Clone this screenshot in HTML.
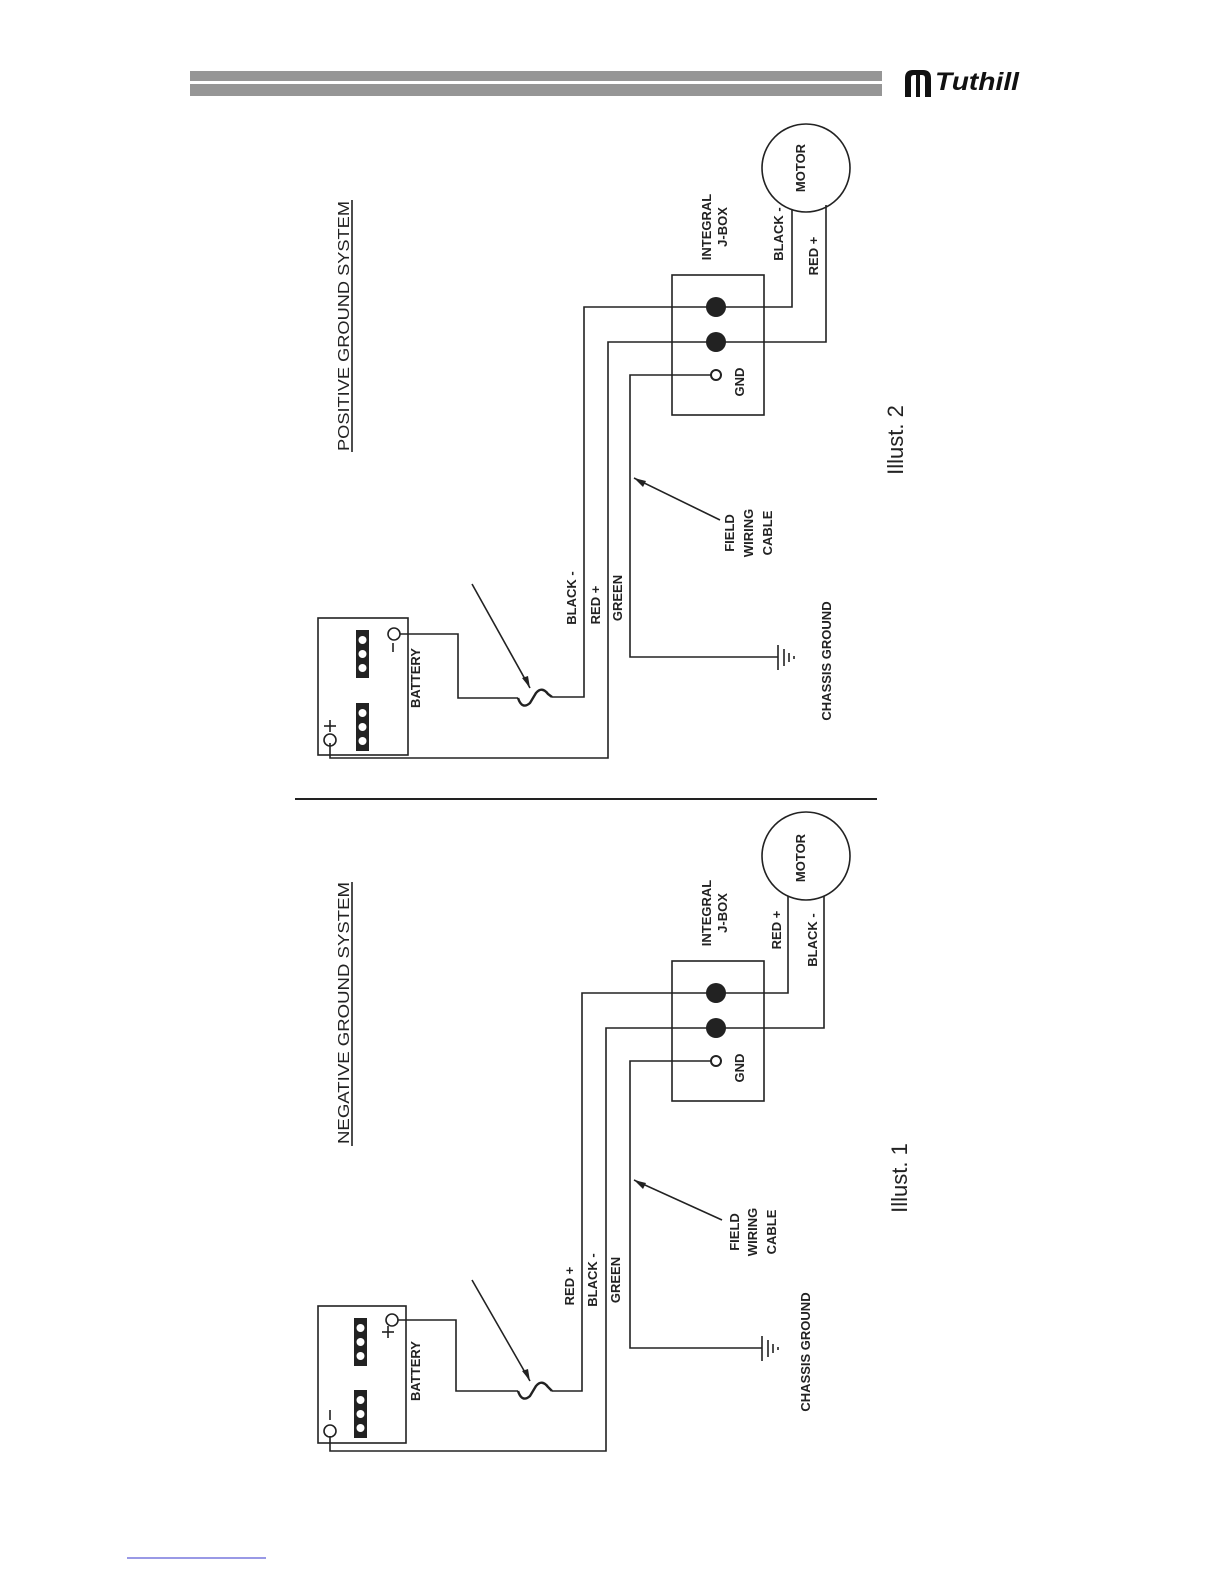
<!DOCTYPE html>
<html><head><meta charset="utf-8"><style>
html,body{margin:0;padding:0;background:#fff}
svg{display:block}
.b{font-family:"Liberation Sans",sans-serif;font-weight:bold;font-size:13px;fill:#222}
</style></head><body>
<svg width="1225" height="1585" viewBox="0 0 1225 1585" xmlns="http://www.w3.org/2000/svg">
<rect x="190" y="71" width="692" height="10" fill="#969696"/>
<rect x="190" y="84" width="692" height="12" fill="#969696"/>
<g transform="translate(903,68)">
<path d="M2 29 L2 10 Q2 2 10 2 L20 2 Q28 2 28 10 L28 29 L22 29 L22 10 Q22 7 19 7 L17 7 L17 29 L13 29 L13 7 L11 7 Q8 7 8 10 L8 29 Z" fill="#111"/>
<text x="32" y="22" style="font-family:'Liberation Sans',sans-serif;font-weight:bold;font-style:italic;font-size:25px" fill="#111" textLength="84" lengthAdjust="spacingAndGlyphs">Tuthill</text>
</g>
<line x1="295" y1="799" x2="877" y2="799" stroke="#222" stroke-width="2"/>
<line x1="127" y1="1558" x2="266" y2="1558" stroke="#33c" stroke-width="1"/>

<!-- TOP: positive ground -->
<g fill="none" stroke="#222" stroke-width="1.6">
<circle cx="806" cy="168" r="44"/>
<rect x="672" y="275" width="92" height="140"/>
<polyline points="723,307 792,307 792,210"/>
<polyline points="723,342 826,342 826,205"/>
<polyline points="716,375 630,375 630,657 778,657"/>
<polyline points="723,307 584,307 584,697 552,697"/>
<polyline points="723,342 608,342 608,758 330,758 330,743"/>
<rect x="318" y="618" width="90" height="137"/>
<circle cx="394" cy="634" r="6"/>
<circle cx="330" cy="740" r="6"/>
<polyline points="400,634 458,634 458,698 518,698"/>
<path d="M518 698 Q522 710 530 703 L536 693 Q542 686 548 694 L552 697" stroke-width="2.4"/>
<line x1="472" y1="584" x2="530" y2="688"/>
<line x1="720" y1="520" x2="634" y2="478"/>
<line x1="778" y1="645" x2="778" y2="670"/>
<line x1="784" y1="649" x2="784" y2="666"/>
<line x1="789" y1="653" x2="789" y2="662"/>
<line x1="794" y1="656" x2="794" y2="659"/>
<line x1="393" y1="643" x2="393" y2="652"/>
<line x1="324" y1="726" x2="336" y2="726"/><line x1="330" y1="720" x2="330" y2="732"/>
<line x1="352" y1="200" x2="352" y2="452"/>
</g>
<path d="M530 688 L522 678 L528 676 Z M634 478 L646 481 L643 487 Z" fill="#222"/>
<circle cx="716" cy="307" r="10" fill="#222"/>
<circle cx="716" cy="342" r="10" fill="#222"/>
<circle cx="716" cy="375" r="5" fill="#fff" stroke="#222" stroke-width="2"/>
<g fill="#222"><rect x="356" y="630" width="13" height="48"/><rect x="356" y="703" width="13" height="48"/></g>
<g fill="#fff"><circle cx="362.5" cy="640" r="4"/><circle cx="362.5" cy="654" r="4"/><circle cx="362.5" cy="668" r="4"/><circle cx="362.5" cy="713" r="4"/><circle cx="362.5" cy="727" r="4"/><circle cx="362.5" cy="741" r="4"/></g>
<g class="b" text-anchor="middle">
<text transform="translate(349,326) rotate(-90)" style="font-size:16px;font-weight:normal" textLength="250" lengthAdjust="spacingAndGlyphs">POSITIVE GROUND SYSTEM</text>
<text transform="translate(805,168) rotate(-90)">MOTOR</text>
<text transform="translate(711,227) rotate(-90)">INTEGRAL</text>
<text transform="translate(727,227) rotate(-90)">J-BOX</text>
<text transform="translate(783,234) rotate(-90)">BLACK -</text>
<text transform="translate(818,256) rotate(-90)">RED +</text>
<text transform="translate(744,382) rotate(-90)">GND</text>
<text transform="translate(576,598) rotate(-90)">BLACK -</text>
<text transform="translate(600,605) rotate(-90)">RED +</text>
<text transform="translate(622,598) rotate(-90)">GREEN</text>
<text transform="translate(734,533) rotate(-90)">FIELD</text>
<text transform="translate(753,533) rotate(-90)">WIRING</text>
<text transform="translate(772,533) rotate(-90)">CABLE</text>
<text transform="translate(831,661) rotate(-90)">CHASSIS GROUND</text>
<text transform="translate(420,678) rotate(-90)">BATTERY</text>
<text transform="translate(903,440) rotate(-90)" style="font-weight:normal;font-size:22px">Illust. 2</text>
</g>

<!-- BOTTOM: negative ground -->
<g transform="translate(0,686)">
<g fill="none" stroke="#222" stroke-width="1.6">
<circle cx="806" cy="170" r="44"/>
<rect x="672" y="275" width="92" height="140"/>
<polyline points="723,307 788,307 788,210"/>
<polyline points="723,342 824,342 824,210"/>
<polyline points="716,375 630,375 630,662 762,662"/>
<polyline points="723,307 582,307 582,705 552,705"/>
<polyline points="723,342 606,342 606,765 330,765 330,750"/>
<rect x="318" y="620" width="88" height="137"/>
<circle cx="392" cy="634" r="6"/>
<circle cx="330" cy="745" r="6"/>
<polyline points="398,634 456,634 456,705 518,705"/>
<path d="M518 705 Q522 717 530 710 L536 700 Q542 693 548 701 L552 705" stroke-width="2.4"/>
<line x1="472" y1="594" x2="530" y2="695"/>
<line x1="722" y1="534" x2="634" y2="494"/>
<line x1="762" y1="650" x2="762" y2="675"/>
<line x1="768" y1="654" x2="768" y2="671"/>
<line x1="773" y1="658" x2="773" y2="667"/>
<line x1="778" y1="661" x2="778" y2="664"/>
<line x1="382" y1="646" x2="394" y2="646"/><line x1="388" y1="640" x2="388" y2="652"/>
<line x1="330" y1="724" x2="330" y2="734"/>
<line x1="352" y1="196" x2="352" y2="460"/>
</g>
<path d="M530 695 L522 685 L528 683 Z M634 494 L646 497 L643 503 Z" fill="#222"/>
<circle cx="716" cy="307" r="10" fill="#222"/>
<circle cx="716" cy="342" r="10" fill="#222"/>
<circle cx="716" cy="375" r="5" fill="#fff" stroke="#222" stroke-width="2"/>
<g fill="#222"><rect x="354" y="632" width="13" height="48"/><rect x="354" y="704" width="13" height="48"/></g>
<g fill="#fff"><circle cx="360.5" cy="642" r="4"/><circle cx="360.5" cy="656" r="4"/><circle cx="360.5" cy="670" r="4"/><circle cx="360.5" cy="714" r="4"/><circle cx="360.5" cy="728" r="4"/><circle cx="360.5" cy="742" r="4"/></g>
<g class="b" text-anchor="middle">
<text transform="translate(349,327) rotate(-90)" style="font-size:16px;font-weight:normal" textLength="262" lengthAdjust="spacingAndGlyphs">NEGATIVE GROUND SYSTEM</text>
<text transform="translate(805,172) rotate(-90)">MOTOR</text>
<text transform="translate(711,227) rotate(-90)">INTEGRAL</text>
<text transform="translate(727,227) rotate(-90)">J-BOX</text>
<text transform="translate(781,244) rotate(-90)">RED +</text>
<text transform="translate(817,254) rotate(-90)">BLACK -</text>
<text transform="translate(744,382) rotate(-90)">GND</text>
<text transform="translate(574,600) rotate(-90)">RED +</text>
<text transform="translate(597,594) rotate(-90)">BLACK -</text>
<text transform="translate(620,594) rotate(-90)">GREEN</text>
<text transform="translate(739,546) rotate(-90)">FIELD</text>
<text transform="translate(757,546) rotate(-90)">WIRING</text>
<text transform="translate(776,546) rotate(-90)">CABLE</text>
<text transform="translate(810,666) rotate(-90)">CHASSIS GROUND</text>
<text transform="translate(420,685) rotate(-90)">BATTERY</text>
<text transform="translate(907,492) rotate(-90)" style="font-weight:normal;font-size:22px">Illust. 1</text>
</g>
</g>
</svg>
</body></html>
